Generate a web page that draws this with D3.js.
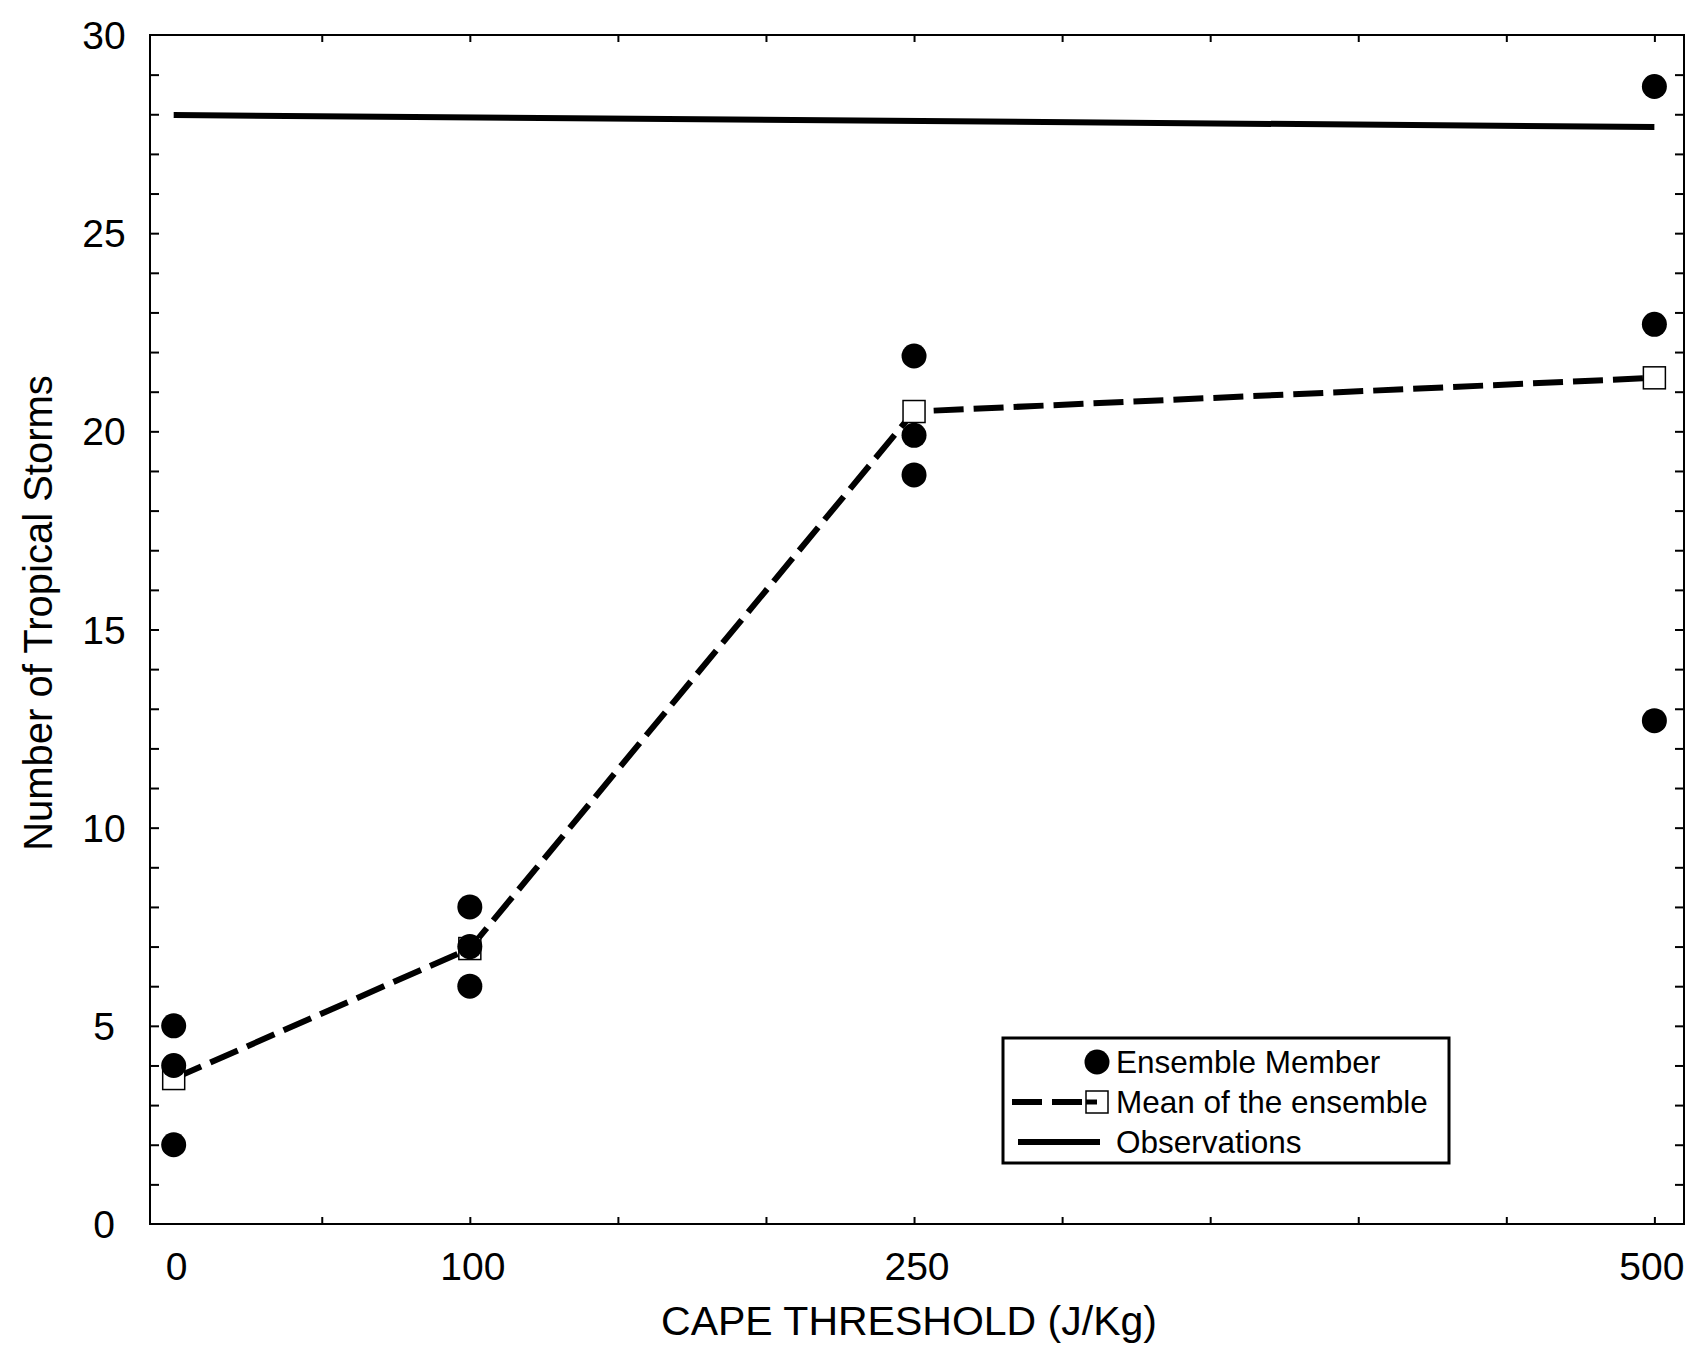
<!DOCTYPE html>
<html>
<head>
<meta charset="utf-8">
<script src="https://cdn.jsdelivr.net/npm/d3@7"></script>
<style>
  body { margin: 0; background: #fff; }
  svg { display: block; font-family: "Liberation Sans", Arial, sans-serif; }
</style>
</head>
<body>
<script>
// data
const thresholds = [0, 100, 250, 500]
const xTickLabels = ["0", "100", "250", "500"]
const yTickLabels = [0, 5, 10, 15, 20, 25, 30]
// ensemble members, one list per threshold
const members0 = [5.0, 4.0, 2.0]
const members100 = [8.0, 7.0, 6.0]
const members250 = [21.9, 19.9, 18.9]
const members500 = [28.7, 22.7, 12.7]
const ensembleMean = [3.67, 6.95, 20.5, 21.35]
// observations line (slightly tilted in the scan)
const obsX = [0, 500]
const obsValues = [27.98, 27.68]
const legendLabels = ["Ensemble Member", "Mean of the ensemble", "Observations"]

const w = 1687
const h = 1345

const svg = d3.select("body")
  .append("svg")
  .attr("width", w)
  .attr("height", h)

const xScale = d3.scaleLinear()
  .domain([-8, 510])
  .range([150, 1684])

const yScale = d3.scaleLinear()
  .domain([0, 30])
  .range([1224, 35])

//frame
svg.append("rect")
  .attr("x", xScale(-8))
  .attr("y", yScale(30))
  .attr("width", xScale(510) - xScale(-8))
  .attr("height", yScale(0) - yScale(30))
  .attr("fill", "none")
  .attr("stroke", "#000")
  .attr("stroke-width", 2)

//minor ticks, pointing inward
const yTicks = d3.range(1, 30)
svg.append("g")
  .attr("transform", "translate(" + xScale(-8) + ",0)")
  .call(d3.axisRight(yScale).tickValues(yTicks).tickSize(9).tickFormat(""))
  .call(g => g.select(".domain").remove())
svg.append("g")
  .attr("transform", "translate(" + xScale(510) + ",0)")
  .call(d3.axisLeft(yScale).tickValues(yTicks).tickSize(9).tickFormat(""))
  .call(g => g.select(".domain").remove())

const xTicks = d3.range(50, 501, 50)
svg.append("g")
  .attr("transform", "translate(0," + yScale(0) + ")")
  .call(d3.axisTop(xScale).tickValues(xTicks).tickSize(7).tickFormat(""))
  .call(g => g.select(".domain").remove())
svg.append("g")
  .attr("transform", "translate(0," + yScale(30) + ")")
  .call(d3.axisBottom(xScale).tickValues(xTicks).tickSize(7).tickFormat(""))
  .call(g => g.select(".domain").remove())
svg.selectAll(".tick line").attr("stroke-width", 2)

//tick labels
svg.selectAll(".ylab")
  .data(yTickLabels)
  .enter()
  .append("text")
  .attr("class", "ylab")
  .attr("x", 104)
  .attr("y", d => yScale(d))
  .attr("dy", "0.36em")
  .attr("text-anchor", "middle")
  .style("font-size", "39px")
  .text(d => d)

svg.selectAll(".xlab")
  .data(thresholds)
  .enter()
  .append("text")
  .attr("class", "xlab")
  .attr("x", (d, i) => i == thresholds.length - 1 ? xScale(d) + 30 : xScale(d) + 3)
  .attr("y", 1266)
  .attr("dy", "0.36em")
  .attr("text-anchor", (d, i) => i == thresholds.length - 1 ? "end" : "middle")
  .style("font-size", "39px")
  .text((d, i) => xTickLabels[i])

//axis titles
svg.append("text")
  .attr("x", 909)
  .attr("y", 1320)
  .attr("dy", "0.36em")
  .attr("text-anchor", "middle")
  .style("font-size", "41px")
  .text("CAPE THRESHOLD (J/Kg)")

svg.append("text")
  .attr("transform", "translate(38,613) rotate(-90)")
  .attr("dy", "0.36em")
  .attr("text-anchor", "middle")
  .style("font-size", "40px")
  .text("Number of Tropical Storms")

//observations
const line = d3.line()
  .x(d => xScale(d[0]))
  .y(d => yScale(d[1]))

svg.append("path")
  .datum(obsX.map((x, i) => [x, obsValues[i]]))
  .attr("d", line)
  .attr("fill", "none")
  .attr("stroke", "#000")
  .attr("stroke-width", 6)

//ensemble members
const memberPts = []
const allMembers = [members0, members100, members250, members500]
allMembers.forEach((arr, i) => arr.forEach(v => memberPts.push([thresholds[i], v])))

//mean line
svg.append("path")
  .datum(thresholds.map((x, i) => [x, ensembleMean[i]]))
  .attr("d", line)
  .attr("fill", "none")
  .attr("stroke", "#000")
  .attr("stroke-width", 6)
  .attr("stroke-dasharray", "30,10")

svg.selectAll(".mean")
  .data(thresholds)
  .enter()
  .append("rect")
  .attr("class", "mean")
  .attr("x", (d, i) => xScale(d) - 11)
  .attr("y", (d, i) => yScale(ensembleMean[i]) - 11)
  .attr("width", 22)
  .attr("height", 22)
  .attr("fill", "#fff")
  .attr("stroke", "#000")
  .attr("stroke-width", 1.5)

svg.selectAll(".member")
  .data(memberPts)
  .enter()
  .append("circle")
  .attr("class", "member")
  .attr("cx", d => xScale(d[0]))
  .attr("cy", d => yScale(d[1]))
  .attr("r", 12.5)
  .attr("fill", "#000")

//legend
const lg = svg.append("g")
lg.append("rect")
  .attr("x", 1003)
  .attr("y", 1038)
  .attr("width", 446)
  .attr("height", 125)
  .attr("fill", "#fff")
  .attr("stroke", "#000")
  .attr("stroke-width", 3)

const rowY = [1062, 1102, 1142]
lg.append("circle").attr("cx", 1097).attr("cy", rowY[0]).attr("r", 12.5).attr("fill", "#000")
lg.append("line")
  .attr("x1", 1012).attr("x2", 1097).attr("y1", rowY[1]).attr("y2", rowY[1])
  .attr("stroke", "#000").attr("stroke-width", 6).attr("stroke-dasharray", "30,10")
lg.append("rect")
  .attr("x", 1086).attr("y", rowY[1] - 11).attr("width", 22).attr("height", 22)
  .attr("fill", "#fff").attr("stroke", "#000").attr("stroke-width", 1.5)
lg.append("line")
  .attr("x1", 1086).attr("x2", 1097).attr("y1", rowY[1]).attr("y2", rowY[1])
  .attr("stroke", "#000").attr("stroke-width", 5)
lg.append("line")
  .attr("x1", 1018).attr("x2", 1100).attr("y1", rowY[2]).attr("y2", rowY[2])
  .attr("stroke", "#000").attr("stroke-width", 6)

lg.selectAll(".ltext")
  .data(legendLabels)
  .enter()
  .append("text")
  .attr("class", "ltext")
  .attr("x", 1116)
  .attr("y", (d, i) => rowY[i])
  .attr("dy", "0.36em")
  .style("font-size", "31.5px")
  .text(d => d)
</script>
</body>
</html>
